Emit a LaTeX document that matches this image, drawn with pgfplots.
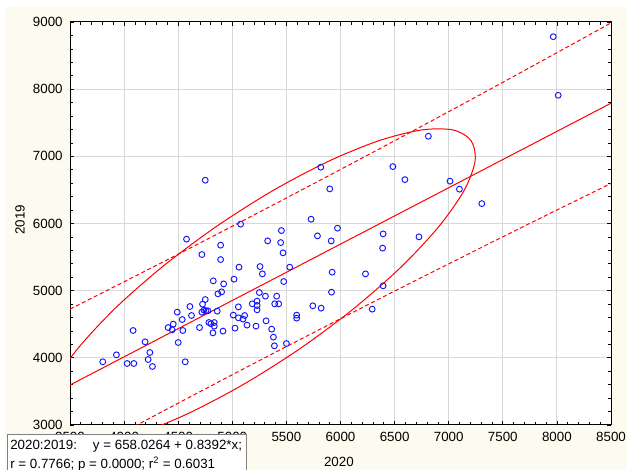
\documentclass[border=0pt]{standalone}
\usepackage{fontspec}
\setmainfont{Liberation Sans}
\usepackage{pgfplots}
\pgfplotsset{compat=1.18}
\definecolor{cream}{RGB}{253,250,240}
\definecolor{gridgray}{RGB}{216,216,216}
\definecolor{ptblue}{RGB}{20,20,255}
\begin{document}
\begin{tikzpicture}[x=1pt,y=1pt,font=\fontsize{10}{12}\selectfont]
\useasboundingbox (0,0) rectangle (470.25,352.5);
\fill[white] (0,0) rectangle (470.25,352.5);
\fill[cream] (3.75,0) rectangle (470.25,347.25);
\begin{axis}[
  at={(52.5pt,33.75pt)}, anchor=south west,
  scale only axis, width=405.75pt, height=302.25pt,
  xmin=3500, xmax=8500, ymin=3000, ymax=9000,
  xtick={3500,4000,...,8500}, ytick={3000,4000,...,9000},
  minor x tick num=4, minor y tick num=4,
  tick align=inside,
  major tick length=3pt, minor tick length=2pt,
  grid=major, major grid style={gridgray, line width=0.75pt},
  axis line style={black, line width=0.75pt},
  every tick/.append style={black, line width=0.5pt},
  /pgf/number format/assume math mode=true,
  /pgf/number format/set thousands separator={},
  xticklabel style={yshift=-2pt},
  yticklabel style={xshift=-2pt},
  tick label style={font=\fontsize{10}{12}\selectfont},
  label style={font=\fontsize{10}{12}\selectfont},
  xlabel={2020}, ylabel={2019},
  xlabel style={at={(axis description cs:0.497,-0.092)}, anchor=center},
  ylabel style={at={(axis description cs:-0.0924,0.509)}, anchor=center},
  axis background/.style={fill=white},
]
% regression line
\addplot[red, line width=0.75pt] coordinates {(3500,3595.2) (8500,7791.2)};
% prediction band (dashed)
\addplot[red, line width=0.75pt, dash pattern=on 3pt off 2pt, smooth] coordinates {
(3500,4725) (4000,5132) (4500,5543) (5000,5959) (5500,6380) (6000,6804)
(6500,7232) (7000,7665) (7500,8102) (8000,8543) (8500,8986)};
\addplot[red, line width=0.75pt, dash pattern=on 3pt off 2pt, smooth] coordinates {
(3500,2465) (4000,2898) (4500,3325) (5000,3749) (5500,4168) (6000,4582)
(6500,4994) (7000,5399) (7500,5802) (8000,6201) (8500,6596)};
% ellipse
\addplot[red, line width=0.75pt, smooth cycle] coordinates {
(7208,7231) (7243,6922) (7140,6485) (6907,5951) (6563,5357) (6127,4739)
(5632,4144) (5110,3611) (4596,3174) (4128,2866) (3734,2707) (3444,2708)
(3277,2869) (3243,3179) (3345,3614) (3578,4150) (3922,4744) (4358,5361)
(4854,5957) (5375,6490) (5889,6926) (6357,7234) (6751,7393) (7041,7392)};
% data
\addplot[only marks, mark=o, mark size=2.2pt, ptblue, mark options={line width=0.7pt}] coordinates {
(4750,6644) (5818,6838) (5901,6515) (5077,5990) (5728,6064) (5454,5895)
(5972,5930) (4577,5767) (5327,5741) (5447,5716) (5787,5816) (5914,5741)
(4892,5677) (4719,5538) (4892,5463) (5469,5563) (5062,5350) (5256,5359)
(5278,5250) (5531,5350) (5923,5275) (4824,5146) (4920,5101) (5016,5171)
(5475,5136) (4867,4953) (4901,4982) (4491,4680) (4608,4764) (4750,4868)
(4725,4799) (4719,4680) (4738,4710) (4756,4700) (4775,4700) (4861,4695)
(4623,4630) (4537,4570) (4454,4502) (4407,4451) (4444,4417) (4543,4407)
(4500,4228) (4697,4451) (4784,4526) (4802,4507) (4833,4526) (4833,4472)
(4821,4372) (4914,4398) (5009,4636) (5056,4759) (5056,4596) (5099,4576)
(5114,4630) (5025,4442) (5136,4487) (5185,4804) (5229,4844) (5229,4779)
(5229,4715) (5250,4972) (5306,4918) (5219,4472) (5312,4551) (5364,4427)
(5380,4308) (5389,4179) (5392,4804) (5410,4918) (5429,4804) (5595,4636)
(5595,4591) (5500,4213) (5744,4774) (5821,4740) (5917,4978) (3803,3941)
(3929,4045) (4083,4407) (4194,4238) (4238,4079) (4028,3916) (4090,3916)
(4222,3975) (4262,3871) (4565,3941) (6812,7299) (6484,6847) (6595,6653)
(7012,6630) (7099,6511) (7306,6296) (6394,5845) (6725,5801) (6389,5633)
(6231,5250) (6394,5072) (6293,4725) (7966,8781) (8012,7909)};
\end{axis}
% statistics box
\fill[white] (5.25,-2) rectangle (184.5,26.25);
\draw[gray, line width=0.75pt] (5.25,-2) rectangle (184.5,26.25);
\node[anchor=base west, inner sep=0pt] at (7.5,15) {2020:2019:\hspace{12pt}y = 658.0264 + 0.8392*x;};
\node[anchor=base west, inner sep=0pt] at (7.5,1) {r = 0.7766; p = 0.0000; r\textsuperscript{2} = 0.6031};
\end{tikzpicture}
\end{document}
